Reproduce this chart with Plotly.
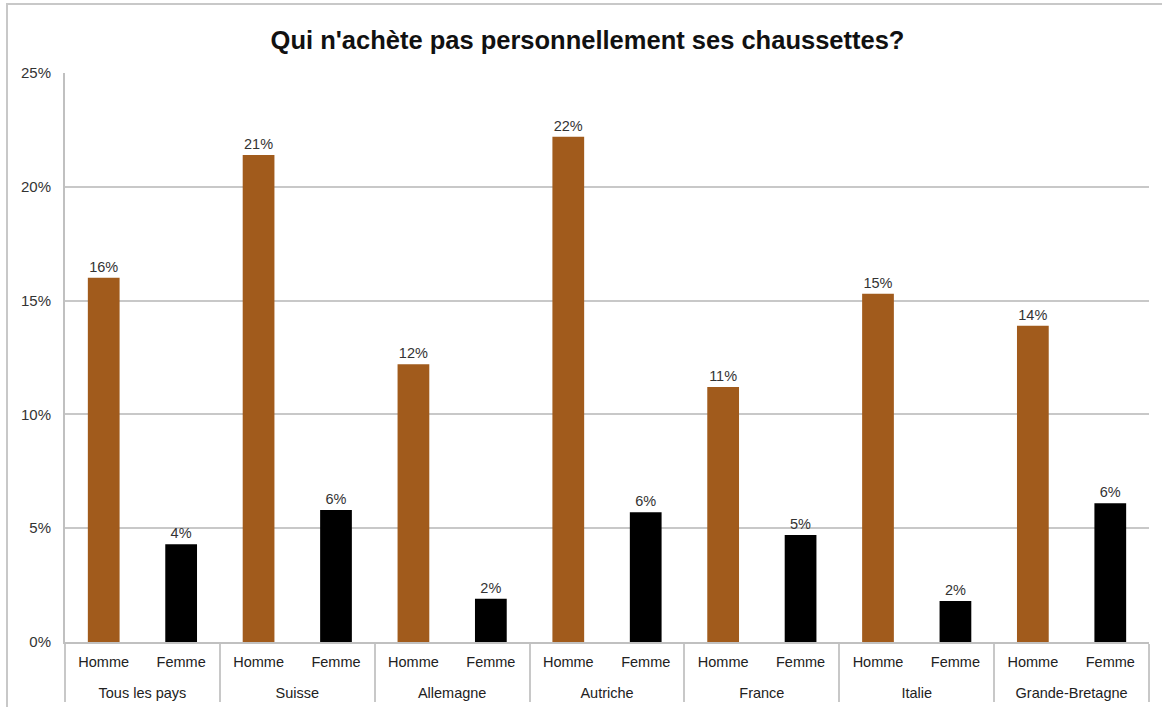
import plotly.graph_objects as go

countries = ["Tous les pays", "Suisse", "Allemagne", "Autriche", "France", "Italie", "Grande-Bretagne"]
sexes = ["Homme", "Femme"]
homme = [16.0, 21.4, 12.2, 22.2, 11.2, 15.3, 13.9]
femme = [4.3, 5.8, 1.9, 5.7, 4.7, 1.8, 6.1]
colors = {"Homme": "#A15B1C", "Femme": "#000000"}
y_ticks = [0, 5, 10, 15, 20, 25]

lvl1, lvl2, vals, cols = [], [], [], []
for c, h, f in zip(countries, homme, femme):
    for s, v in zip(sexes, [h, f]):
        lvl1.append("<br>" + c)
        lvl2.append(s)
        vals.append(v)
        cols.append(colors[s])

fig = go.Figure(go.Bar(
    x=[lvl1, lvl2], y=vals,
    marker=dict(color=cols, line=dict(width=12, color="rgba(0,0,0,0)")),
    texttemplate="%{y:.0f}%", textposition="outside",
    textfont=dict(family="Liberation Sans, Arial", size=14.5, color="#333333"),
    cliponaxis=False,
))

L, R, T, B = 65, 13, 73, 65
W, H = 1162, 707
pw, ph = W - L - R, H - T - B

fig.update_layout(
    width=W, height=H,
    margin=dict(l=L, r=R, t=T, b=B, autoexpand=False),
    paper_bgcolor="white", plot_bgcolor="white",
    bargap=0.59,
    showlegend=False,
    title=dict(text="<b>Qui n'achète pas personnellement ses chaussettes?</b>",
               x=0.5056, xanchor="center", y=1 - 40 / H, yanchor="middle",
               font=dict(family="Liberation Sans, Arial", size=25.5, color="#111111")),
    font=dict(family="Liberation Sans, Arial", size=14, color="#333333"),
    xaxis=dict(type="multicategory", showline=True, linecolor="#c0c0c0", linewidth=2,
               dividercolor="#c8c8c8", dividerwidth=2, showgrid=False,
               ticklabelstandoff=6,
               tickfont=dict(size=14.5, color="#222222")),
    yaxis=dict(range=[0, 25], tickvals=y_ticks, ticktext=[f"{t}%" for t in y_ticks],
               showgrid=True, gridcolor="#c8c8c8", gridwidth=2,
               showline=True, linecolor="#c0c0c0", linewidth=2, zeroline=False,
               tickfont=dict(size=15, color="#333333"), ticks="", ticklabelstandoff=9),
)

# outer frame
fig.add_shape(type="rect", xref="paper", yref="paper",
              x0=(7 - L) / pw, x1=(W + 20 - L) / pw,
              y0=-(H + 20 - (H - B)) / ph, y1=((H - B) - 4) / ph,
              line=dict(color="#c8c8c8", width=2), fillcolor="rgba(0,0,0,0)", layer="below")

fig.write_html("out.html", config={"displayModeBar": False},
               post_script="document.body.style.margin='0';document.body.style.overflow='hidden';")
